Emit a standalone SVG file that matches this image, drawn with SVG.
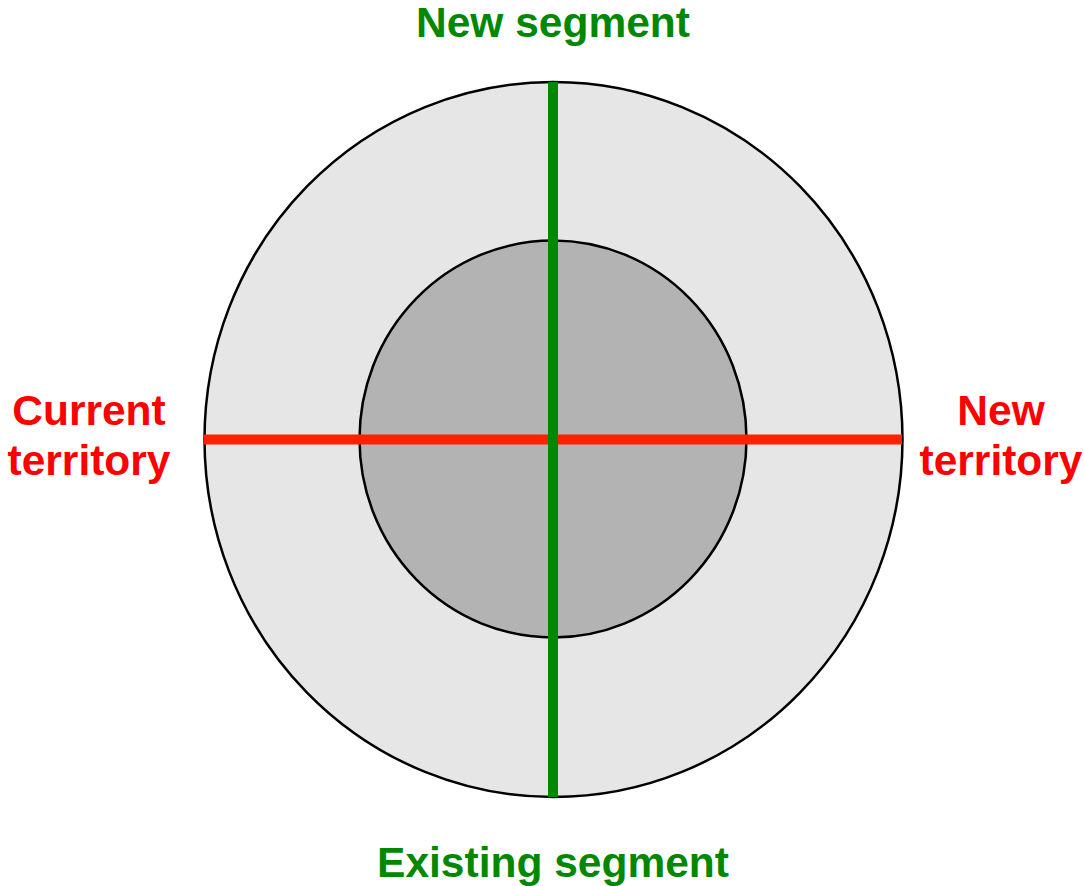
<svg xmlns="http://www.w3.org/2000/svg" width="1084" height="886" viewBox="0 0 1084 886">
<style>
.ring{stroke:#000;stroke-width:2.5}
.lbl{font-family:"Liberation Sans",Arial,sans-serif;font-weight:bold;font-size:42.5px;text-anchor:middle}
.g{fill:#008800}
.r{fill:#ff0000}
</style>
<rect width="1084" height="886" fill="#fff"/>
<g id="outer"><ellipse class="ring" cx="553.5" cy="439.5" rx="349" ry="357.5" fill="#e6e6e6"/></g>
<g id="inner"><ellipse class="ring" cx="553" cy="439" rx="193.5" ry="198.5" fill="#b3b3b3"/></g>
<g id="connectors">
<line x1="204" y1="439.5" x2="902" y2="439.5" stroke="#ff2200" stroke-width="10"/>
<line x1="553" y1="82" x2="553" y2="797" stroke="#008800" stroke-width="10"/>
</g>
<g id="label-new-segment"><text class="lbl g" x="553" y="37">New segment</text></g>
<g id="label-existing-segment"><text class="lbl g" x="553" y="877">Existing segment</text></g>
<g id="label-current-territory"><text class="lbl r" x="89" y="425">Current</text><text class="lbl r" x="89" y="475">territory</text></g>
<g id="label-new-territory"><text class="lbl r" x="1001" y="425">New</text><text class="lbl r" x="1001" y="475">territory</text></g>
</svg>
